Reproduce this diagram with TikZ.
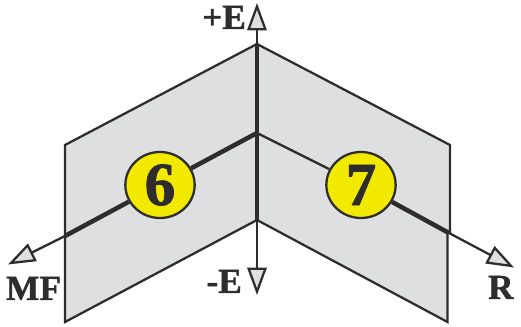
\documentclass[tikz,border=0pt]{standalone}
\usepackage{fontspec}
\setmainfont{Liberation Serif}[BoldFeatures={FakeBold=1.2}]
\usetikzlibrary{arrows.meta}
\definecolor{planegray}{RGB}{222,223,225}
\definecolor{inkdark}{RGB}{46,44,45}
\definecolor{discyellow}{RGB}{242,233,0}
\tikzset{every picture/.style={line width=1.7pt}}
\tikzset{
  plane/.style={draw=inkdark,fill=planegray,line join=miter},
  thinaxis/.style={draw=inkdark,-{Triangle[length=20.5pt,width=14.5pt,fill=planegray]}},
  thickaxis/.style={draw=inkdark,line width=3.4pt},
  disc/.style={draw=inkdark,fill=discyellow,ellipse,minimum width=52pt,minimum height=49.5pt,inner sep=0pt,font=\fontsize{46}{46}\selectfont\bfseries,text=inkdark},
  axislabel/.style={inner sep=0pt,text=inkdark,font=\fontsize{26.5}{26.5}\selectfont\bfseries}
}
\usetikzlibrary{shapes.geometric}
\begin{document}
\begin{tikzpicture}[x=0.75pt,y=0.75pt,yscale=-1,xscale=1]
	\useasboundingbox (0,0) rectangle (521,327);
	
	%Shape: Polygon
	\draw [plane] (257,44) -- (65,145) -- (65,322) -- (257,220) -- cycle;
	%Shape: Polygon
	\draw [plane] (257,44) -- (450,145) -- (450,232) -- (447.5,232) -- (447.5,322) -- (257,220) -- cycle;
	
	\coordinate (top) at (257,44);
	\coordinate (centre) at (257,133);
	\coordinate (bottom) at (257,220);
	\coordinate (leftedge) at (65,236);
	\coordinate (rightedge) at (449,233);
	\coordinate (tipE) at (257,3);
	\coordinate (tipminusE) at (257,295);
	\coordinate (tipMF) at (8,264.5);
	\coordinate (tipR) at (514,267.5);
	
	% Text Node
	\node [disc] (six) at (160,185) {6};
	% Text Node
	\node [disc] (seven) at (361,185) {7};
	
	%Straight Lines
	\draw [thinaxis] (top) -- (tipE);
	%Straight Lines
	\draw [thinaxis] (bottom) -- (tipminusE);
	%Straight Lines
	\draw [thinaxis] (leftedge) -- (tipMF);
	%Straight Lines
	\draw [thinaxis] (rightedge) -- (tipR);
	%Straight Lines
	\draw [thickaxis] (top) -- (bottom);
	%Straight Lines
	\draw [thickaxis] (centre) -- (six);
	%Straight Lines
	\draw [thickaxis] (six) -- (leftedge);
	%Straight Lines
	\draw [draw=inkdark] (centre) -- (seven);
	%Straight Lines
	\draw [thickaxis] (seven) -- (rightedge);
	
	% Text Node
	\node [axislabel,anchor=base east] (plusE) at (247,29) {+E};
	% Text Node
	\node [axislabel,anchor=base east] (minusE) at (243,293) {-E};
	% Text Node
	\node [axislabel,anchor=base west] (MF) at (5,300) {MF};
	% Text Node
	\node [axislabel,anchor=base west] (R) at (487,299) {R};
\end{tikzpicture}
\end{document}
